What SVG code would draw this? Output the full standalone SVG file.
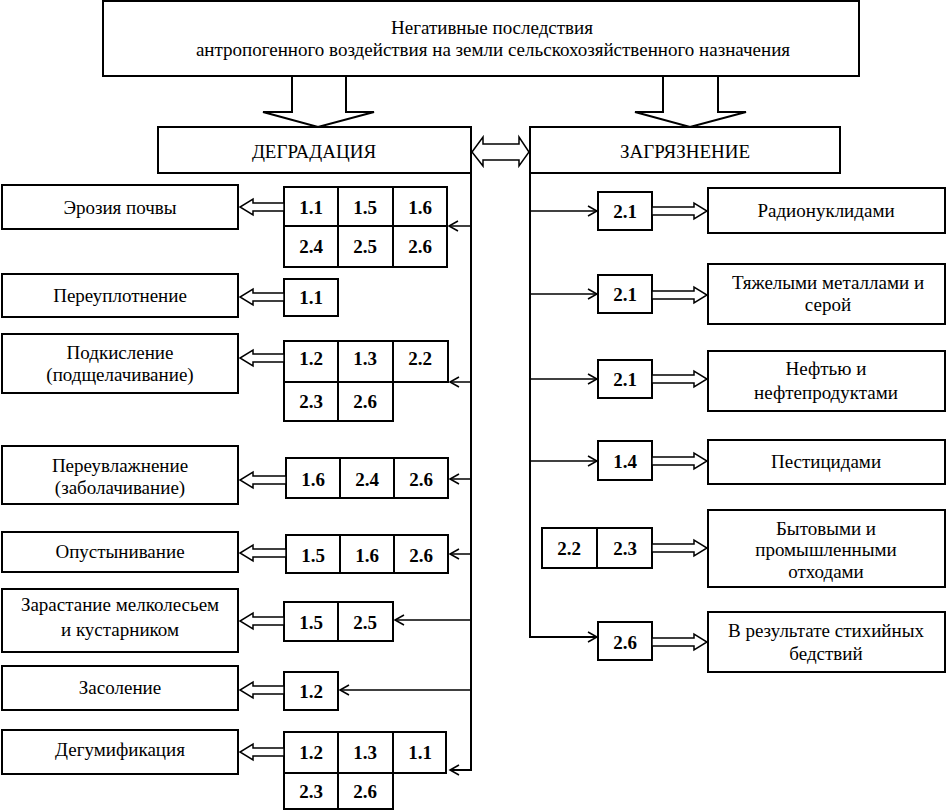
<svg xmlns="http://www.w3.org/2000/svg" width="947" height="810" viewBox="0 0 947 810">
<style>
.b{fill:#fff;stroke:#000;stroke-width:2}
.t{font-family:"Liberation Serif","Times New Roman",serif;font-size:19px;fill:#000;text-anchor:middle}
.c{font-family:"Liberation Serif","Times New Roman",serif;font-size:19px;font-weight:bold;fill:#000;text-anchor:middle}
.ln{fill:none;stroke:#000;stroke-width:2}
.th{fill:none;stroke:#000;stroke-width:1.5}
.ba{fill:#fff;stroke:#000;stroke-width:1.5}
</style>
<rect width="947" height="810" fill="#fff"/>
<g id="top">
<rect class="b" x="103" y="1" width="756" height="75"/>
<text class="t" x="492" y="34">Негативные последствия</text>
<text class="t" x="493" y="56">антропогенного воздействия на земли сельскохозяйственного назначения</text>
</g>
<g id="degradation">
<rect class="b" x="158" y="127" width="313" height="46"/>
<text class="t" x="314" y="158">ДЕГРАДАЦИЯ</text>
</g>
<g id="pollution">
<rect class="b" x="530" y="127" width="310" height="46"/>
<text class="t" x="685" y="158">ЗАГРЯЗНЕНИЕ</text>
</g>

<g id="left-nodes">
<g id="n-erosion"><rect class="b" x="2" y="185" width="236" height="44"/><text class="t" x="120" y="214">Эрозия почвы</text></g>
<g id="c-erosion">
<rect class="b" x="284" y="187" width="54" height="39"/><rect class="b" x="338" y="187" width="55" height="39"/><rect class="b" x="393" y="187" width="54" height="39"/>
<rect class="b" x="284" y="226" width="54" height="41"/><rect class="b" x="338" y="226" width="55" height="41"/><rect class="b" x="393" y="226" width="54" height="41"/>
<text class="c" x="311" y="214">1.1</text><text class="c" x="365" y="214">1.5</text><text class="c" x="420" y="214">1.6</text>
<text class="c" x="311" y="253">2.4</text><text class="c" x="365" y="253">2.5</text><text class="c" x="420" y="253">2.6</text>
</g>
<g id="n-compact"><rect class="b" x="2" y="274" width="236" height="43"/><text class="t" x="120" y="302">Переуплотнение</text></g>
<g id="c-compact"><rect class="b" x="284" y="279" width="54" height="37"/><text class="c" x="311" y="304">1.1</text></g>
<g id="n-acid"><rect class="b" x="2" y="334" width="236" height="59"/><text class="t" x="120" y="359">Подкисление</text><text class="t" x="120" y="381">(подщелачивание)</text></g>
<g id="c-acid">
<rect class="b" x="284" y="341" width="54" height="41"/><rect class="b" x="338" y="341" width="55" height="41"/><rect class="b" x="393" y="341" width="55" height="41"/>
<rect class="b" x="284" y="382" width="54" height="39"/><rect class="b" x="338" y="382" width="55" height="39"/>
<text class="c" x="311" y="365">1.2</text><text class="c" x="365" y="365">1.3</text><text class="c" x="420" y="365">2.2</text>
<text class="c" x="311" y="408">2.3</text><text class="c" x="365" y="408">2.6</text>
</g>
<g id="n-wet"><rect class="b" x="2" y="446" width="236" height="58"/><text class="t" x="120" y="472">Переувлажнение</text><text class="t" x="120" y="494">(заболачивание)</text></g>
<g id="c-wet">
<rect class="b" x="286" y="458" width="54" height="40"/><rect class="b" x="340" y="458" width="54" height="40"/><rect class="b" x="394" y="458" width="54" height="40"/>
<text class="c" x="313" y="486">1.6</text><text class="c" x="367" y="486">2.4</text><text class="c" x="421" y="486">2.6</text>
</g>
<g id="n-desert"><rect class="b" x="2" y="532" width="236" height="40"/><text class="t" x="120" y="558">Опустынивание</text></g>
<g id="c-desert">
<rect class="b" x="286" y="535" width="54" height="38"/><rect class="b" x="340" y="535" width="54" height="38"/><rect class="b" x="394" y="535" width="54" height="38"/>
<text class="c" x="313" y="562">1.5</text><text class="c" x="367" y="562">1.6</text><text class="c" x="421" y="562">2.6</text>
</g>
<g id="n-shrub"><rect class="b" x="2" y="589" width="236" height="63"/><text class="t" x="120" y="611">Зарастание мелколесьем</text><text class="t" x="120" y="636">и кустарником</text></g>
<g id="c-shrub">
<rect class="b" x="284" y="602" width="54" height="39"/><rect class="b" x="338" y="602" width="55" height="39"/>
<text class="c" x="311" y="629">1.5</text><text class="c" x="365" y="629">2.5</text>
</g>
<g id="n-salt"><rect class="b" x="2" y="666" width="236" height="44"/><text class="t" x="120" y="694">Засоление</text></g>
<g id="c-salt"><rect class="b" x="284" y="672" width="54" height="38"/><text class="c" x="311" y="698">1.2</text></g>
<g id="n-humus"><rect class="b" x="2" y="730" width="236" height="44"/><text class="t" x="120" y="756">Дегумификация</text></g>
<g id="c-humus">
<rect class="b" x="284" y="732" width="54" height="41"/><rect class="b" x="338" y="732" width="55" height="41"/><rect class="b" x="393" y="732" width="53" height="41"/>
<rect class="b" x="284" y="773" width="54" height="36"/><rect class="b" x="338" y="773" width="55" height="36"/>
<text class="c" x="311" y="759">1.2</text><text class="c" x="365" y="759">1.3</text><text class="c" x="420" y="759">1.1</text>
<text class="c" x="311" y="798">2.3</text><text class="c" x="365" y="798">2.6</text>
</g>
</g>

<g id="right-nodes">
<g id="c-rad"><rect class="b" x="598" y="192" width="54" height="38"/><text class="c" x="625" y="218">2.1</text></g>
<g id="n-rad"><rect class="b" x="708" y="188" width="237" height="45"/><text class="t" x="826" y="217">Радионуклидами</text></g>
<g id="c-metal"><rect class="b" x="598" y="275" width="54" height="38"/><text class="c" x="625" y="301">2.1</text></g>
<g id="n-metal"><rect class="b" x="708" y="264" width="237" height="60"/><text class="t" x="828" y="289">Тяжелыми металлами и</text><text class="t" x="828" y="311">серой</text></g>
<g id="c-oil"><rect class="b" x="598" y="360" width="54" height="38"/><text class="c" x="625" y="386">2.1</text></g>
<g id="n-oil"><rect class="b" x="708" y="351" width="237" height="60"/><text class="t" x="826" y="375">Нефтью и</text><text class="t" x="826" y="399">нефтепродуктами</text></g>
<g id="c-pest"><rect class="b" x="598" y="441" width="54" height="39"/><text class="c" x="625" y="468">1.4</text></g>
<g id="n-pest"><rect class="b" x="708" y="440" width="237" height="44"/><text class="t" x="826" y="468">Пестицидами</text></g>
<g id="c-waste">
<rect class="b" x="542" y="528" width="55" height="40"/><rect class="b" x="597" y="528" width="55" height="40"/>
<text class="c" x="569" y="555">2.2</text><text class="c" x="625" y="555">2.3</text>
</g>
<g id="n-waste"><rect class="b" x="708" y="510" width="237" height="77"/><text class="t" x="826" y="535">Бытовыми и</text><text class="t" x="826" y="556">промышленными</text><text class="t" x="826" y="578">отходами</text></g>
<g id="c-disaster"><rect class="b" x="598" y="622" width="54" height="38"/><text class="c" x="625" y="649">2.6</text></g>
<g id="n-disaster"><rect class="b" x="708" y="612" width="237" height="60"/><text class="t" x="826" y="637">В результате стихийных</text><text class="t" x="826" y="660">бедствий</text></g>
</g>

<g id="connectors">
<polygon class="b" points="292,76 292,112 263,112 318,127 374,112 346,112 346,76"/>
<polygon class="b" points="663,76 663,112 635,112 690,127 746,112 718,112 718,76"/>
<polygon class="ba" points="472,152 483,137 483,144 519,144 519,137 529,152 519,166 519,160 483,160 483,166"/>
<polyline class="ln" points="471,173 471,770 450,770"/>
<polyline class="ln" points="530,173 530,637 597,637"/>
<line class="th" x1="471" y1="226" x2="449" y2="226"/>
<line class="th" x1="471" y1="382" x2="450" y2="382"/>
<line class="th" x1="471" y1="479" x2="450" y2="479"/>
<line class="th" x1="471" y1="554" x2="450" y2="554"/>
<line class="th" x1="471" y1="620" x2="395" y2="620"/>
<line class="th" x1="471" y1="690" x2="340" y2="690"/>
<g class="th">
<polyline points="458,221 449,226 458,231"/>
<polyline points="459,377 450,382 459,387"/>
<polyline points="459,474 450,479 459,484"/>
<polyline points="459,549 450,554 459,559"/>
<polyline points="404,615 395,620 404,625"/>
<polyline points="349,685 340,690 349,695"/>
<polyline points="459,765 450,770 459,775"/>
</g>
<line class="th" x1="530" y1="211" x2="597" y2="211"/>
<line class="th" x1="530" y1="294" x2="597" y2="294"/>
<line class="th" x1="530" y1="379" x2="597" y2="379"/>
<line class="th" x1="530" y1="461" x2="597" y2="461"/>
<g class="th">
<polyline points="588,206 597,211 588,216"/>
<polyline points="588,289 597,294 588,299"/>
<polyline points="588,374 597,379 588,384"/>
<polyline points="588,456 597,461 588,466"/>
<polyline points="588,632 597,637 588,642"/>
</g>
<polygon class="ba" points="284,203 253,203 253,199 240,207 253,215 253,211 284,211"/>
<polygon class="ba" points="284,293 253,293 253,289 240,297 253,305 253,301 284,301"/>
<polygon class="ba" points="284,354 253,354 253,350 240,358 253,366 253,362 284,362"/>
<polygon class="ba" points="286,476 253,476 253,472 240,480 253,488 253,484 286,484"/>
<polygon class="ba" points="286,549 253,549 253,545 240,553 253,561 253,557 286,557"/>
<polygon class="ba" points="284,617 253,617 253,613 240,621 253,629 253,625 284,625"/>
<polygon class="ba" points="284,686 253,686 253,682 240,690 253,698 253,694 284,694"/>
<polygon class="ba" points="284,748 253,748 253,744 240,752 253,760 253,756 284,756"/>
<polygon class="ba" points="652,207 694,207 694,203 707,211 694,219 694,215 652,215"/>
<polygon class="ba" points="652,291 694,291 694,287 707,295 694,303 694,299 652,299"/>
<polygon class="ba" points="652,375 694,375 694,371 707,379 694,387 694,383 652,383"/>
<polygon class="ba" points="652,457 694,457 694,453 707,461 694,469 694,465 652,465"/>
<polygon class="ba" points="652,544 694,544 694,540 707,548 694,556 694,552 652,552"/>
<polygon class="ba" points="652,638 694,638 694,634 707,642 694,650 694,646 652,646"/>
</g>
</svg>
